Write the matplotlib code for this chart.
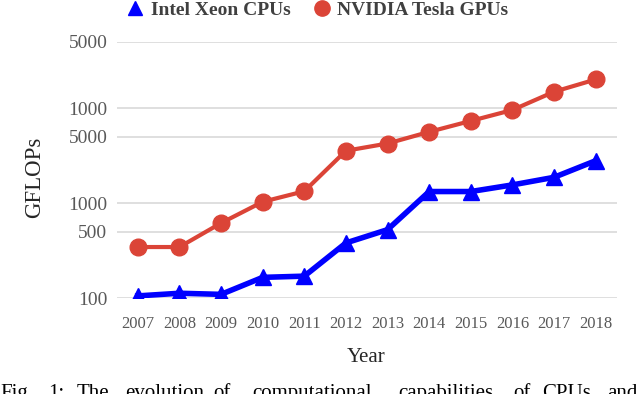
import matplotlib
matplotlib.use("Agg")
import matplotlib.pyplot as plt
from matplotlib.lines import Line2D

years = ["2007", "2008", "2009", "2010", "2011", "2012", "2013", "2014", "2015", "2016", "2017", "2018"]
intel_xeon = [106, 113, 110, 166, 171, 382, 527, 1326, 1326, 1557, 1871, 2797]
nvidia_tesla = [346, 346, 618, 1034, 1335, 3558, 4242, 5623, 7328, 9550, 14846, 20000]
ytick_values = [100, 500, 1000, 5000, 10000, 50000]
ytick_labels = ["100", "500", "1000", "5000", "1000", "5000"]
caption_words = ["Fig.", "1:", "The", "evolution", "of", "computational", "capabilities", "of", "CPUs", "and"]
caption_x = [0, 48, 77, 125, 213, 252, 398, 513, 542, 607]

W, H = 640, 394
fig = plt.figure(figsize=(W / 100, H / 100), dpi=100)
plt.rcParams['font.family'] = ['Liberation Serif', 'DejaVu Serif']

ax = fig.add_axes([117 / W, 1 - 298.3 / H, (616.5 - 117) / W, (298.3 - 41.6) / H])
x = list(range(len(years)))
red = "#DB4437"
blue = "#0000FF"
ax.plot(x, nvidia_tesla, color=red, lw=3, marker='o', markersize=12, zorder=3)
ax.plot(x, intel_xeon, color=blue, lw=4, marker='^', markersize=12, zorder=4)

ax.set_yscale('log')
ax.set_ylim(100, 50000)
ax.set_xlim(-0.5, len(years) - 0.5)
ax.set_yticks(ytick_values)
ax.set_yticklabels(ytick_labels)
ax.yaxis.set_minor_locator(matplotlib.ticker.NullLocator())
ax.set_xticks(x)
ax.set_xticklabels(years)
for s in ax.spines.values():
    s.set_visible(False)
ax.grid(axis='y', color='#d9d9d9', lw=1.2)
ax.set_axisbelow(True)
ax.tick_params(axis='both', length=0, colors='#595959')
ax.tick_params(axis='y', pad=7, labelsize=14)
ax.tick_params(axis='x', pad=13, labelsize=12)

fig.text(366 / W, 1 - 357 / H, "Year", ha='center', va='center', fontsize=15, color='#262626')
fig.text(35 / W, 1 - 177 / H, "GFLOPs", ha='center', va='center', rotation=90, fontsize=16.5, color='#262626')

handles = [Line2D([], [], color=blue, marker='^', ls='none', markersize=10),
           Line2D([], [], color=red, marker='o', ls='none', markersize=11)]
leg = fig.legend(handles, ["Intel Xeon CPUs", "NVIDIA Tesla GPUs"], loc='center', ncol=2,
                 bbox_to_anchor=(316 / W, 1 - 10 / H), frameon=False,
                 prop={'weight': 'bold', 'size': 14}, handletextpad=0.2, columnspacing=1.0,
                 handlelength=1.2)
for t in leg.get_texts():
    t.set_color('#404040')

for w, cx in zip(caption_words, caption_x):
    fig.text(cx / W, -3.7 / H, w, ha='left', va='baseline', fontsize=15, color='black')

fig.savefig("out.png", dpi=100)
